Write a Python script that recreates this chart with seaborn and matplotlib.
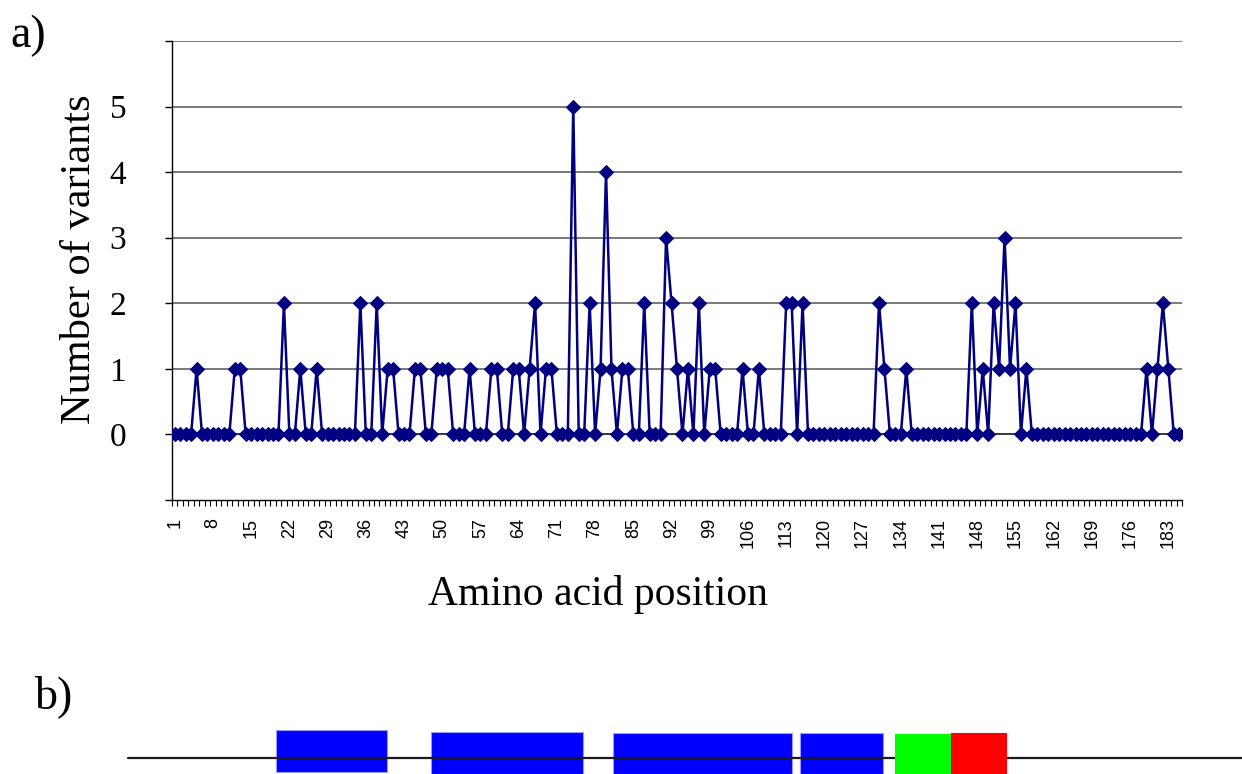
import matplotlib
matplotlib.use('Agg')
import matplotlib.pyplot as plt
import numpy as np
import pandas as pd
import seaborn as sns


# a) number of variants per amino acid position (1..185)
positions = list(range(1, 186))
variants = [
    0, 0, 0, 0, 1, 0, 0, 0, 0, 0,   # 1-10
    0, 1, 1, 0, 0, 0, 0, 0, 0, 0,   # 11-20
    2, 0, 0, 1, 0, 0, 1, 0, 0, 0,   # 21-30
    0, 0, 0, 0, 2, 0, 0, 2, 0, 1,   # 31-40
    1, 0, 0, 0, 1, 1, 0, 0, 1, 1,   # 41-50
    1, 0, 0, 0, 1, 0, 0, 0, 1, 1,   # 51-60
    0, 0, 1, 1, 0, 1, 2, 0, 1, 1,   # 61-70
    0, 0, 0, 5, 0, 0, 2, 0, 1, 4,   # 71-80
    1, 0, 1, 1, 0, 0, 2, 0, 0, 0,   # 81-90
    3, 2, 1, 0, 1, 0, 2, 0, 1, 1,   # 91-100
    0, 0, 0, 0, 1, 0, 0, 1, 0, 0,   # 101-110
    0, 0, 2, 2, 0, 2, 0, 0, 0, 0,   # 111-120
    0, 0, 0, 0, 0, 0, 0, 0, 0, 2,   # 121-130
    1, 0, 0, 0, 1, 0, 0, 0, 0, 0,   # 131-140
    0, 0, 0, 0, 0, 0, 2, 0, 1, 0,   # 141-150
    2, 1, 3, 1, 2, 0, 1, 0, 0, 0,   # 151-160
    0, 0, 0, 0, 0, 0, 0, 0, 0, 0,   # 161-170
    0, 0, 0, 0, 0, 0, 0, 0, 1, 0,   # 171-180
    1, 2, 1, 0, 0,                  # 181-185
]
tick_positions = positions[::7]
y_ticks = [-1, 0, 1, 2, 3, 4, 5, 6]
y_ticklabels = ['', '0', '1', '2', '3', '4', '5', '']

# b) domain schematic (schematic units along the drawn line)
line_span = [128, 1242]
domain_start = [276, 431, 613, 800, 895, 951]
domain_end = [387, 583, 792, 883, 951, 1006]
domain_top = [730, 732, 733, 733, 734, 733]
domain_bottom = [772, 774, 774, 774, 774, 774]
domain_colors = ['#0000ff', '#0000ff', '#0000ff', '#0000ff', '#00ff00', '#ff0000']

sns.set_style('white')
plt.rcParams['font.family'] = ['Liberation Serif', 'DejaVu Serif']
plt.rcParams['text.color'] = 'black'
plt.rcParams['xtick.color'] = 'black'
plt.rcParams['ytick.color'] = 'black'
plt.rcParams['axes.labelcolor'] = 'black'

fig = plt.figure(figsize=(12.42, 7.74), dpi=100)
ax = fig.add_axes([172 / 1242, 1 - 500 / 774, 1010 / 1242, 459 / 774])

df = pd.DataFrame({'position': positions, 'variants': variants})
sns.lineplot(data=df, x='position', y='variants', ax=ax, color='#000080',
             marker='D', markersize=7.5, markeredgecolor='#000080',
             linewidth=1.8, zorder=3)

ax.set_xlim(0.5, 185.5)
ax.set_ylim(-1, 6)
for y in range(0, 7):
    ax.axhline(y, color='black' if y == 0 else '#555555', lw=1.1, zorder=1)

ax.set_yticks(y_ticks)
ax.set_yticklabels(y_ticklabels)
ax.tick_params(axis='y', direction='out', length=5, width=1, color='black',
               labelcolor='black', labelsize=24, pad=28, left=True)

ax.set_xticks(tick_positions)
ax.set_xticklabels([str(p) for p in tick_positions], rotation=90,
                   family=['Liberation Sans', 'DejaVu Sans'], fontsize=13)
ax.set_xticks(np.arange(0.5, 186, 1), minor=True)
ax.tick_params(axis='x', which='major', length=0, pad=13, bottom=True,
               labelcolor='black')
ax.tick_params(axis='x', which='minor', direction='out', length=4.5,
               width=0.8, color='black', bottom=True)

ax.set_xlabel('')
ax.set_ylabel('')
for side in ['top', 'right']:
    ax.spines[side].set_visible(False)
for side in ['left', 'bottom']:
    ax.spines[side].set_color('black')
    ax.spines[side].set_linewidth(1)

fig.text(598 / 1242, 1 - 595 / 774, 'Amino acid position', fontsize=30,
         ha='center', va='center', color='black')
fig.text(80 / 1242, 1 - 259 / 774, 'Number of variants', fontsize=30.5,
         rotation=90, ha='center', va='center', color='black')
fig.text(10 / 1242, 1 - 36 / 774, 'a)', fontsize=33, ha='left', va='center',
         color='black')
fig.text(35 / 1242, 1 - 697 / 774, 'b)', fontsize=33, ha='left', va='center',
         color='black')

# schematic panel
ax_b = fig.add_axes([0, 0, 1, 90 / 774])
ax_b.set_xlim(0, 1242)
ax_b.set_ylim(774, 684)
ax_b.axis('off')
ax_b.plot(line_span, [758, 758], color='#1a1a1a', lw=1.6, zorder=2)
for s, e, t, b, c in zip(domain_start, domain_end, domain_top, domain_bottom, domain_colors):
    ax_b.bar(s, b - t, width=e - s, bottom=t, align='edge', color=c,
             edgecolor='#9999ff' if c == '#0000ff' else c, linewidth=0.8,
             zorder=1 if c == '#0000ff' else 3)

fig.savefig('out.png', dpi=100)
